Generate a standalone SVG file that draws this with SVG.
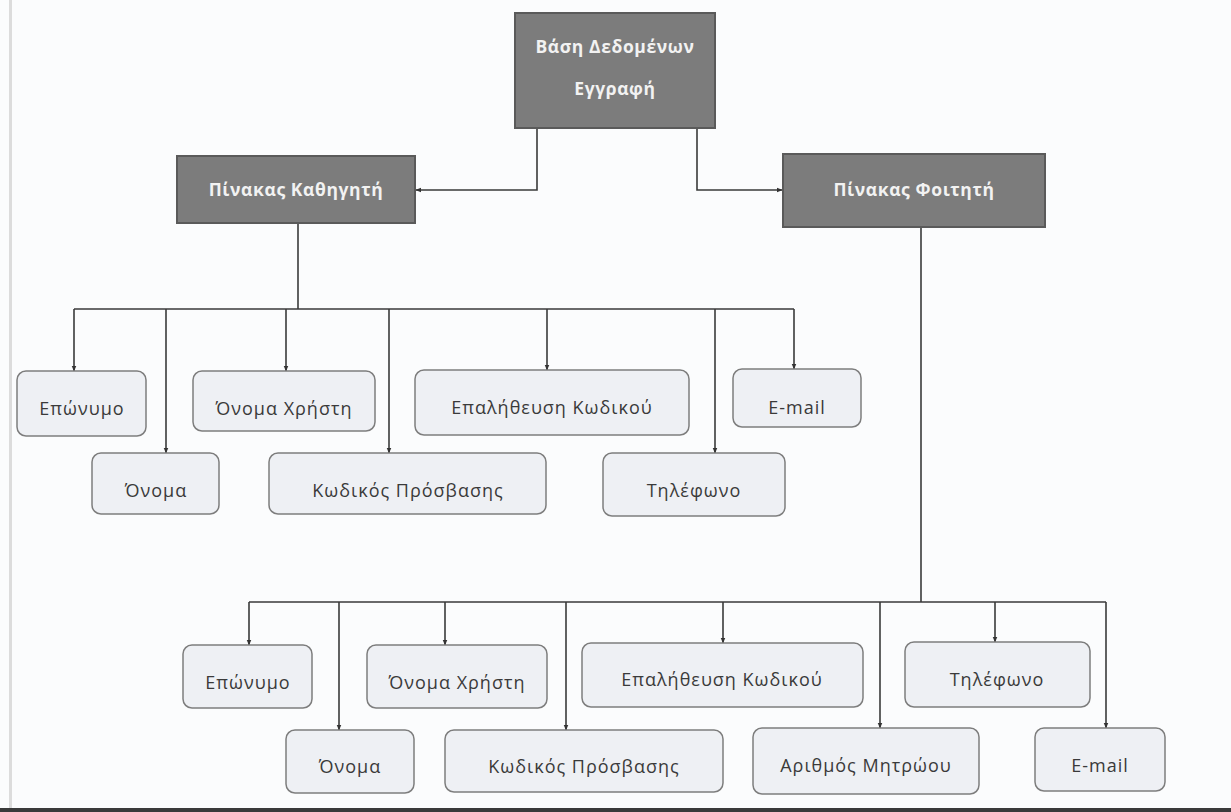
<svg xmlns="http://www.w3.org/2000/svg" width="1231" height="812" viewBox="0 0 1231 812">
<style>
.bg{fill:#fbfcfd}
.dark rect{fill:#7c7c7c;stroke:#5a5a5a;stroke-width:2}
.dark text{font-family:"Open Sans","Liberation Sans",sans-serif;font-weight:bold;font-size:17.5px;fill:#f2f2f2;text-anchor:middle;letter-spacing:0.6px}
.lite rect{fill:#eef0f4;stroke:#7d7d7d;stroke-width:1.5}
.lite text{font-family:"Open Sans","Liberation Sans",sans-serif;font-size:18px;fill:#3a3a3a;text-anchor:middle;letter-spacing:1px}
.conn path{fill:none;stroke:#3a3a3a;stroke-width:1.6}
</style>
<defs>
<marker id="arr" viewBox="0 0 10 10" refX="9" refY="5" markerWidth="6" markerHeight="6" orient="auto" markerUnits="userSpaceOnUse">
<path d="M0,1 L10,5 L0,9 z" fill="#333"/>
</marker>
</defs>
<rect class="bg" x="0" y="0" width="1231" height="812"/>
<rect x="9" y="0" width="3" height="808" fill="#dcdcdc"/>
<rect x="0" y="808" width="1231" height="4" fill="#3a3a3a"/>

<g class="conn">
<path d="M537 128 V190 H416" marker-end="url(#arr)"/>
<path d="M697 128 V190 H782" marker-end="url(#arr)"/>
<path d="M298 223 V309"/>
<path d="M74 309 H794"/>
<path d="M74 309 V371" marker-end="url(#arr)"/>
<path d="M166 309 V453" marker-end="url(#arr)"/>
<path d="M286 309 V371" marker-end="url(#arr)"/>
<path d="M389 309 V453" marker-end="url(#arr)"/>
<path d="M547 309 V370" marker-end="url(#arr)"/>
<path d="M715 309 V453" marker-end="url(#arr)"/>
<path d="M794 309 V369" marker-end="url(#arr)"/>
<path d="M921 227 V602"/>
<path d="M249 602 H1106"/>
<path d="M249 602 V645" marker-end="url(#arr)"/>
<path d="M339 602 V730" marker-end="url(#arr)"/>
<path d="M445 602 V645" marker-end="url(#arr)"/>
<path d="M566 602 V730" marker-end="url(#arr)"/>
<path d="M723 602 V643" marker-end="url(#arr)"/>
<path d="M880 602 V728" marker-end="url(#arr)"/>
<path d="M995 602 V642" marker-end="url(#arr)"/>
<path d="M1106 602 V728" marker-end="url(#arr)"/>
</g>

<g id="db" class="dark">
<rect x="515" y="13" width="200" height="115"/>
<text x="615" y="53">Βάση Δεδομένων</text>
<text x="615" y="95">Εγγραφή</text>
</g>
<g id="teacher" class="dark">
<rect x="177" y="156" width="238" height="67"/>
<text x="296" y="196">Πίνακας Καθηγητή</text>
</g>
<g id="student" class="dark">
<rect x="783" y="154" width="262" height="73"/>
<text x="914" y="196">Πίνακας Φοιτητή</text>
</g>

<g id="t-surname" class="lite"><rect x="17" y="371" width="129" height="65" rx="9"/><text x="82" y="415">Επώνυμο</text></g>
<g id="t-name" class="lite"><rect x="92" y="453" width="127" height="61" rx="9"/><text x="156" y="497">Όνομα</text></g>
<g id="t-username" class="lite"><rect x="193" y="371" width="182" height="60" rx="9"/><text x="284" y="415">Όνομα Χρήστη</text></g>
<g id="t-password" class="lite"><rect x="269" y="453" width="277" height="61" rx="9"/><text x="408" y="497">Κωδικός Πρόσβασης</text></g>
<g id="t-verify" class="lite"><rect x="415" y="370" width="274" height="65" rx="9"/><text x="552" y="414">Επαλήθευση  Κωδικού</text></g>
<g id="t-phone" class="lite"><rect x="603" y="453" width="182" height="63" rx="9"/><text x="694" y="497">Τηλέφωνο</text></g>
<g id="t-email" class="lite"><rect x="733" y="369" width="128" height="58" rx="9"/><text x="797" y="414">E-mail</text></g>

<g id="s-surname" class="lite"><rect x="183" y="645" width="129" height="63" rx="9"/><text x="248" y="689">Επώνυμο</text></g>
<g id="s-name" class="lite"><rect x="286" y="730" width="128" height="63" rx="9"/><text x="350" y="773">Όνομα</text></g>
<g id="s-username" class="lite"><rect x="367" y="645" width="180" height="63" rx="9"/><text x="457" y="689">Όνομα Χρήστη</text></g>
<g id="s-password" class="lite"><rect x="445" y="730" width="278" height="62" rx="9"/><text x="584" y="773">Κωδικός Πρόσβασης</text></g>
<g id="s-verify" class="lite"><rect x="582" y="643" width="281" height="64" rx="9"/><text x="722" y="686">Επαλήθευση  Κωδικού</text></g>
<g id="s-am" class="lite"><rect x="753" y="728" width="226" height="66" rx="9"/><text x="866" y="772">Αριθμός Μητρώου</text></g>
<g id="s-phone" class="lite"><rect x="905" y="642" width="185" height="65" rx="9"/><text x="997" y="686">Τηλέφωνο</text></g>
<g id="s-email" class="lite"><rect x="1035" y="728" width="130" height="63" rx="9"/><text x="1100" y="772">E-mail</text></g>
</svg>
